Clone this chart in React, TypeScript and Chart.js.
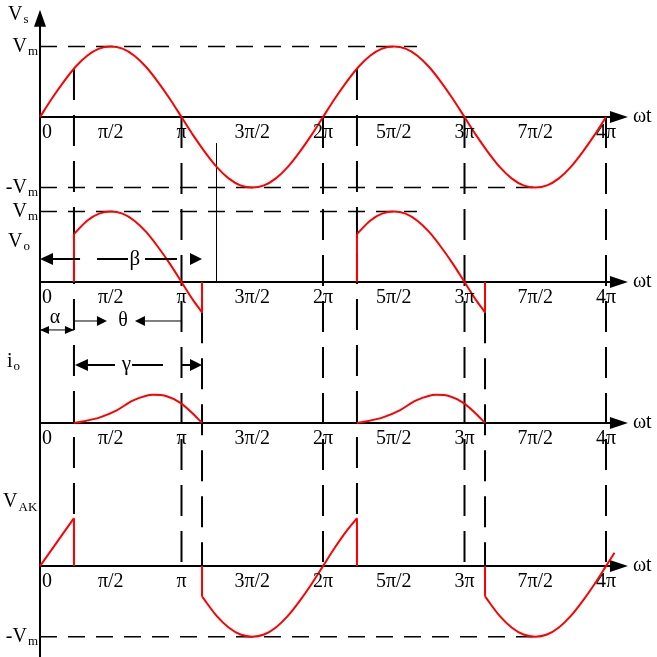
import React, { useEffect, useRef } from "react";
import { Chart, registerables } from "chart.js";

Chart.register(...registerables);

// ---------- data: ωt in units of π, voltages/currents in units of Vm ----------
const tickValues = [0, 0.5, 1, 1.5, 2, 2.5, 3, 3.5, 4];
const tickLabels = ["0", "π/2", "π", "3π/2", "2π", "5π/2", "3π", "7π/2", "4π"];

// supply voltage vs
const wtSupply = [0, 0.083, 0.167, 0.25, 0.333, 0.417, 0.5, 0.583, 0.667, 0.75, 0.833, 0.917, 1, 1.083, 1.167, 1.25, 1.333, 1.417, 1.5, 1.583, 1.667, 1.75, 1.833, 1.917, 2, 2.083, 2.167, 2.25, 2.333, 2.417, 2.5, 2.583, 2.667, 2.75, 2.833, 2.917, 3, 3.083, 3.167, 3.25, 3.333, 3.417, 3.5, 3.583, 3.667, 3.75, 3.833, 3.917, 4];
const vsValues = [0, 0.26, 0.5, 0.71, 0.87, 0.97, 1, 0.97, 0.87, 0.71, 0.5, 0.26, 0, -0.26, -0.5, -0.71, -0.87, -0.97, -1, -0.97, -0.87, -0.71, -0.5, -0.26, 0, 0.26, 0.5, 0.71, 0.87, 0.97, 1, 0.97, 0.87, 0.71, 0.5, 0.26, 0, -0.26, -0.5, -0.71, -0.87, -0.97, -1, -0.97, -0.87, -0.71, -0.5, -0.26, 0];

// firing angle α and extinction angle β (units of π)
const alpha1 = 0.24;
const beta1 = 1.145;
const alpha2 = 2.24;
const beta2 = 3.145;
const vAtAlpha = 0.68;
const vAtBeta = -0.43;

// output voltage vo (conduction intervals)
const wtVo1 = [0.24, 0.333, 0.417, 0.5, 0.583, 0.667, 0.75, 0.833, 0.917, 1, 1.083, 1.145];
const wtVo2 = [2.24, 2.333, 2.417, 2.5, 2.583, 2.667, 2.75, 2.833, 2.917, 3, 3.083, 3.145];
const voValues = [0.68, 0.87, 0.97, 1, 0.97, 0.87, 0.71, 0.5, 0.26, 0, -0.26, -0.43];

// load current io
const wtIo1 = [0.24, 0.3, 0.424, 0.542, 0.659, 0.8, 0.895, 0.989, 1.072, 1.145];
const wtIo2 = [2.24, 2.3, 2.424, 2.542, 2.659, 2.8, 2.895, 2.989, 3.072, 3.145];
const ioValues = [0, 0.02, 0.08, 0.18, 0.32, 0.4, 0.38, 0.29, 0.15, 0];

// thyristor voltage vAK
const wtVakStart = [0, 0.24];
const vakStart = [0, 0.68];
const wtVak1 = [1.145, 1.25, 1.333, 1.417, 1.5, 1.583, 1.667, 1.75, 1.833, 1.917, 2, 2.083, 2.167, 2.24];
const vak1 = [-0.43, -0.71, -0.87, -0.97, -1, -0.97, -0.87, -0.71, -0.5, -0.26, 0, 0.26, 0.5, 0.68];
const wtVak2 = [3.145, 3.25, 3.333, 3.417, 3.5, 3.583, 3.667, 3.75, 3.833, 3.917, 4, 4.06];
const vak2 = [-0.43, -0.71, -0.87, -0.97, -1, -0.97, -0.87, -0.71, -0.5, -0.26, 0, 0.19];

// ---------- layout (global y in Vm units, 0 at top of canvas) ----------
const PANEL_BASE = [-1.66, -4.0, -6.0, -8.03];
const X_MIN = -0.2827;
const X_MAX = 4.3604;
const Y_MIN = -9.319;
const Y_MAX = 0;

const RED = "#ff0000";
const FONT = "Liberation Serif";
const TICK_FONT = `20px "${FONT}"`;
const MAIN_FONT = `20px "${FONT}"`;
const SUB_FONT = `13px "${FONT}"`;

type P = { x: number; y: number | null };

function pts(panel: number, xs: number[], vs: number[]): P[] {
  return xs.map((x, i) => ({ x, y: PANEL_BASE[panel] + vs[i] }));
}

function jumps(panel: number, list: [number, number, number][]): P[] {
  const out: P[] = [];
  list.forEach(([x, a, b]) => {
    out.push({ x, y: PANEL_BASE[panel] + a });
    out.push({ x, y: PANEL_BASE[panel] + b });
    out.push({ x, y: null });
  });
  return out;
}

function curve(data: P[]) {
  return {
    data,
    showLine: true,
    borderColor: RED,
    borderWidth: 2,
    pointRadius: 0,
    fill: false,
    cubicInterpolationMode: "monotone" as const,
  };
}
function straight(data: P[]) {
  return {
    data,
    showLine: true,
    borderColor: RED,
    borderWidth: 2,
    pointRadius: 0,
    fill: false,
    tension: 0,
    spanGaps: false,
  };
}

// vertical dashed guide lines: [x, fromPanel, fromV, toPanel, toV]
const VLINES: [number, number, number, number, number][] = [
  [alpha1, 0, vAtAlpha, 3, 0],
  [1, 0, 0, 3, 0],
  [beta1, 1, vAtBeta, 3, 0],
  [2, 0, 0, 3, 0],
  [alpha2, 0, vAtAlpha, 3, 0],
  [3, 0, 0, 3, 0],
  [beta2, 1, vAtBeta, 3, 0],
  [4, 0, 0, 3, 0],
];

// horizontal dashed level lines: [panel, v, xEnd]
const HLINES: [number, number, number][] = [
  [0, 1, 2.664],
  [0, -1, 3.534],
  [1, 1, 2.664],
  [3, -1, 3.534],
];

const decor = {
  id: "decor",
  beforeDatasetsDraw(chart: any) {
    const ctx = chart.ctx as CanvasRenderingContext2D;
    const xs = chart.scales.x;
    const ys = chart.scales.y;
    const X = (v: number) => xs.getPixelForValue(v);
    const Y = (p: number, v: number) => ys.getPixelForValue(PANEL_BASE[p] + v);
    ctx.save();
    ctx.strokeStyle = "#000";
    ctx.fillStyle = "#000";

    // horizontal dashed lines
    ctx.lineWidth = 1.5;
    ctx.setLineDash([17, 11]);
    HLINES.forEach(([p, v, xe]) => {
      ctx.beginPath();
      ctx.moveTo(X(0), Y(p, v));
      ctx.lineTo(X(xe), Y(p, v));
      ctx.stroke();
    });

    // vertical dashed lines
    ctx.lineWidth = 2;
    ctx.setLineDash([31, 15]);
    VLINES.forEach(([x, p1, v1, p2, v2]) => {
      ctx.beginPath();
      ctx.moveTo(X(x), Y(p1, v1));
      ctx.lineTo(X(x), Y(p2, v2));
      ctx.stroke();
    });
    ctx.setLineDash([]);

    // thin marker line
    ctx.lineWidth = 1;
    const xm = Math.round(X(1.244)) + 0.5;
    ctx.beginPath();
    ctx.moveTo(xm, Y(0, -0.37));
    ctx.lineTo(xm, Y(1, 0));
    ctx.stroke();

    // vertical axis
    ctx.lineWidth = 2;
    const yTip = Y(0, 1.52);
    ctx.beginPath();
    ctx.moveTo(X(0), yTip + 16);
    ctx.lineTo(X(0), ys.getPixelForValue(Y_MIN));
    ctx.stroke();
    ctx.beginPath();
    ctx.moveTo(X(0), yTip);
    ctx.lineTo(X(0) - 6, yTip + 17);
    ctx.lineTo(X(0) + 6, yTip + 17);
    ctx.closePath();
    ctx.fill();

    // horizontal axes
    for (let p = 0; p < 4; p++) {
      const y = Y(p, 0);
      ctx.beginPath();
      ctx.moveTo(X(0), y);
      ctx.lineTo(X(4.042), y);
      ctx.stroke();
      const tip = X(4.155);
      ctx.beginPath();
      ctx.moveTo(tip, y);
      ctx.lineTo(tip - 18, y - 6);
      ctx.lineTo(tip - 18, y + 6);
      ctx.closePath();
      ctx.fill();
    }
    ctx.restore();
  },
  afterDatasetsDraw(chart: any) {
    const ctx = chart.ctx as CanvasRenderingContext2D;
    const xs = chart.scales.x;
    const ys = chart.scales.y;
    const X = (v: number) => xs.getPixelForValue(v);
    const Y = (p: number, v: number) => ys.getPixelForValue(PANEL_BASE[p] + v);
    ctx.save();
    ctx.fillStyle = "#000";
    ctx.strokeStyle = "#000";

    // tick labels and ωt
    ctx.font = TICK_FONT;
    ctx.textBaseline = "middle";
    for (let p = 0; p < 4; p++) {
      ctx.textAlign = "center";
      tickValues.forEach((t, i) => {
        const x = i === 0 ? X(0.05) : X(t);
        ctx.fillText(tickLabels[i], x, Y(p, 0) + 16);
      });
      ctx.textAlign = "left";
      ctx.fillText("ωt", X(4.19), Y(p, 0));
    }

    // labels with subscripts
    const sub = (main: string, s: string, x: number, y: number, align: "left" | "right") => {
      ctx.font = MAIN_FONT;
      const wm = ctx.measureText(main).width;
      ctx.font = SUB_FONT;
      const ws = ctx.measureText(s).width;
      const x0 = align === "left" ? x : x - wm - ws - 1;
      ctx.textAlign = "left";
      ctx.font = MAIN_FONT;
      ctx.fillText(main, x0, y);
      ctx.font = SUB_FONT;
      ctx.fillText(s, x0 + wm + 1, y + 5);
    };
    sub("V", "s", X(-0.226), Y(0, 1.45), "left");
    sub("V", "m", X(-0.014), Y(0, 1), "right");
    sub("-V", "m", X(-0.014), Y(0, -1), "right");
    sub("V", "m", X(-0.014), Y(1, 1), "right");
    sub("V", "o", X(-0.226), Y(1, 0.567), "left");
    sub("i", "o", X(-0.233), Y(2, 0.865), "left");
    sub("V", "AK", X(-0.261), Y(3, 0.908), "left");
    sub("-V", "m", X(-0.014), Y(3, -1), "right");

    const head = (tipX: number, y: number, dir: number, len: number, half: number) => {
      ctx.beginPath();
      ctx.moveTo(tipX, y);
      ctx.lineTo(tipX - dir * len, y - half);
      ctx.lineTo(tipX - dir * len, y + half);
      ctx.closePath();
      ctx.fill();
    };
    const seg = (x1: number, x2: number, y: number) => {
      ctx.beginPath();
      ctx.moveTo(x1, y);
      ctx.lineTo(x2, y);
      ctx.stroke();
    };

    // β arrow
    ctx.lineWidth = 2;
    let y = Y(1, 0.326);
    head(X(0), y, -1, 13, 6);
    seg(X(0.092), X(0.283), y);
    seg(X(0.403), X(0.622), y);
    seg(X(0.742), X(0.968), y);
    head(X(beta1), y, 1, 12, 6);
    ctx.textAlign = "center";
    ctx.font = `21px "${FONT}"`;
    ctx.fillText("β", X(0.671), y);

    // α arrow
    ctx.lineWidth = 1;
    y = Y(1, -0.68);
    seg(X(0), X(alpha1), y);
    head(X(0), y, -1, 9, 4);
    head(X(alpha1), y, 1, 9, 4);
    ctx.font = `20px "${FONT}"`;
    ctx.fillText("α", X(0.106), Y(1, -0.5));

    // θ arrows
    y = Y(1, -0.553);
    seg(X(alpha1), X(0.42), y);
    head(X(0.473), y, 1, 10, 5);
    seg(X(0.74), X(1), y);
    head(X(0.671), y, -1, 10, 5);
    ctx.font = `20px "${FONT}"`;
    ctx.fillText("θ", X(0.587), y);

    // γ arrow
    ctx.lineWidth = 2;
    y = Y(2, 0.823);
    head(X(0.247), y, -1, 13, 6);
    seg(X(0.33), X(0.53), y);
    seg(X(0.65), X(0.869), y);
    seg(X(1), X(1.07), y);
    head(X(beta1), y, 1, 12, 6);
    ctx.font = `21px "${FONT}"`;
    ctx.fillText("γ", X(0.611), y);

    ctx.restore();
  },
};

export default function App() {
  const ref = useRef<HTMLCanvasElement | null>(null);
  useEffect(() => {
    if (!ref.current) return;
    const datasets: any[] = [
      curve(pts(0, wtSupply, vsValues)),
      curve(pts(1, wtVo1, voValues)),
      curve(pts(1, wtVo2, voValues)),
      straight(
        jumps(1, [
          [alpha1, 0, vAtAlpha],
          [beta1, vAtBeta, 0],
          [alpha2, 0, vAtAlpha],
          [beta2, vAtBeta, 0],
        ])
      ),
      curve(pts(2, wtIo1, ioValues)),
      curve(pts(2, wtIo2, ioValues)),
      straight(pts(3, wtVakStart, vakStart)),
      curve(pts(3, wtVak1, vak1)),
      curve(pts(3, wtVak2, vak2)),
      straight(
        jumps(3, [
          [alpha1, vAtAlpha, 0],
          [beta1, 0, vAtBeta],
          [alpha2, vAtAlpha, 0],
          [beta2, 0, vAtBeta],
        ])
      ),
    ];
    const chart = new Chart(ref.current, {
      type: "scatter",
      data: { datasets },
      options: {
        animation: false,
        responsive: false,
        maintainAspectRatio: false,
        events: [],
        layout: { padding: 0 },
        plugins: {
          legend: { display: false },
          tooltip: { enabled: false },
          title: { display: false },
        },
        elements: { point: { radius: 0 } },
        scales: {
          x: { type: "linear", display: false, min: X_MIN, max: X_MAX },
          y: { type: "linear", display: false, min: Y_MIN, max: Y_MAX },
        },
      },
      plugins: [decor],
    });
    return () => chart.destroy();
  }, []);
  return (
    <div style={{ position: "absolute", left: 0, top: 0, width: 657, height: 657, background: "#fff" }}>
      <canvas ref={ref} width={657} height={657} style={{ width: 657, height: 657 }} />
    </div>
  );
}
